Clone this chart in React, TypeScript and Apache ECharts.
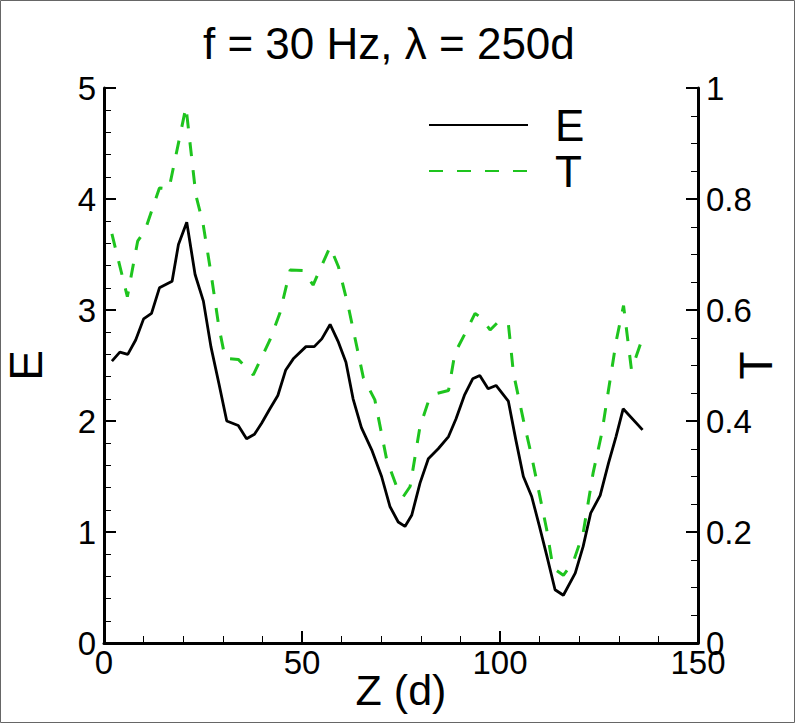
import React, { useEffect, useRef } from "react";
import * as echarts from "echarts";

const titleText = "f = 30 Hz, \u03bb = 250d";
const xTicks = { min: 0, max: 150, interval: 50 };
const eTicks = { min: 0, max: 5, interval: 1 };
const tTicks = { min: 0, max: 1, interval: 0.2 };

const zE = [2, 4, 6, 8, 10, 12, 14, 17.2, 18.8, 20.9, 23, 25.1, 27, 29, 31, 33.9, 36, 38, 39.8, 41.9, 43.9, 45.9, 47.8, 51, 53.1, 55, 57.1, 59.2, 61.1, 62.9, 65, 67.6, 70.1, 72.2, 74.3, 76, 77.7, 79.8, 81.9, 84.4, 87, 88.9, 91, 93.1, 94.9, 97, 99, 102.1, 104, 105.9, 108, 109.9, 111.8, 113.9, 116, 119, 121, 122.9, 125.3, 127.4, 129.3, 131.1, 136];
const eValues = [2.54, 2.62, 2.6, 2.73, 2.92, 2.97, 3.2, 3.26, 3.59, 3.79, 3.32, 3.08, 2.67, 2.34, 2.0, 1.96, 1.84, 1.88, 1.98, 2.11, 2.23, 2.46, 2.56, 2.67, 2.67, 2.74, 2.87, 2.71, 2.53, 2.2, 1.94, 1.74, 1.5, 1.23, 1.09, 1.05, 1.15, 1.44, 1.66, 1.75, 1.86, 2.02, 2.23, 2.38, 2.41, 2.29, 2.32, 2.18, 1.83, 1.5, 1.32, 1.06, 0.79, 0.48, 0.43, 0.63, 0.87, 1.17, 1.33, 1.62, 1.86, 2.11, 1.92];

const zT = [2, 5.9, 8.5, 10.4, 14, 16.4, 20.7, 23.2, 25, 27, 29, 30.6, 33.9, 37.7, 41.9, 44.4, 47, 50.3, 52.8, 57.1, 59.2, 61.7, 65.5, 68.4, 71.4, 73.9, 75.6, 77.3, 79.8, 81.9, 83.6, 87, 88.6, 91.2, 93.7, 95.4, 97.5, 99.6, 102.1, 103.4, 105.9, 108, 111.8, 113.4, 116, 118.5, 121, 123.5, 125.7, 127.8, 129.4, 131.2, 133.2, 136];
const tValues = [0.737, 0.624, 0.724, 0.744, 0.82, 0.818, 0.966, 0.807, 0.756, 0.667, 0.57, 0.513, 0.511, 0.483, 0.546, 0.594, 0.672, 0.671, 0.645, 0.714, 0.678, 0.606, 0.478, 0.438, 0.33, 0.282, 0.264, 0.282, 0.39, 0.435, 0.449, 0.455, 0.522, 0.558, 0.594, 0.585, 0.564, 0.579, 0.576, 0.486, 0.402, 0.336, 0.204, 0.135, 0.122, 0.146, 0.198, 0.306, 0.378, 0.474, 0.546, 0.608, 0.492, 0.55];

const FONT = "'Liberation Sans', Arial, Helvetica, sans-serif";
const GREEN = "#1ec41e";

export default function App() {
  const ref = useRef<HTMLDivElement>(null);
  useEffect(() => {
    document.body.style.margin = "0";
    if (!ref.current) return;
    const chart = echarts.init(ref.current, null, { renderer: "svg" });
    const axisCommon = {
      axisLine: { show: true, lineStyle: { color: "#000", width: 3 } },
      axisTick: { show: true, inside: true, length: 12, lineStyle: { color: "#000", width: 2 } },
      minorTick: { show: true, length: 7, lineStyle: { color: "#000", width: 1 } },
      splitLine: { show: false },
      minorSplitLine: { show: false },
      axisLabel: { color: "#000", fontSize: 33, fontFamily: FONT },
      nameTextStyle: { color: "#000", fontSize: 46, lineHeight: 40, fontFamily: FONT },
      nameMoveOverlap: false,
    };
    chart.setOption({
      animation: false,
      backgroundColor: "#fff",
      textStyle: { fontFamily: FONT },
      title: {
        text: titleText,
        left: 198,
        top: 16,
        textStyle: { color: "#000", fontSize: 44, fontWeight: "normal", fontFamily: FONT },
      },
      grid: { left: 104, right: 97, top: 88, bottom: 80, containLabel: false, outerBoundsMode: "none" },
      legend: {
        data: ["E", "T"],
        orient: "vertical",
        left: 423,
        top: 98,
        itemWidth: 99,
        itemHeight: 14,
        itemGap: 2,
        itemStyle: { opacity: 0 },
        textStyle: { color: "#000", fontSize: 44, lineHeight: 40, padding: [0, 0, 0, 22], fontFamily: FONT },
      },
      xAxis: {
        type: "value",
        ...xTicks,
        ...axisCommon,
        minorTick: { ...axisCommon.minorTick, splitNumber: 5 },
        axisLabel: { ...axisCommon.axisLabel, margin: 3 },
        name: "Z (d)",
        nameLocation: "middle",
        nameGap: 25,
        nameTextStyle: { color: "#000", fontSize: 43, fontFamily: FONT },
      },
      yAxis: [
        {
          type: "value",
          position: "left",
          ...eTicks,
          ...axisCommon,
          minorTick: { ...axisCommon.minorTick, splitNumber: 5 },
          axisLabel: { ...axisCommon.axisLabel, margin: 8 },
          name: "E",
          nameLocation: "middle",
          nameGap: 58,
          nameRotate: 90,
        },
        {
          type: "value",
          position: "right",
          ...tTicks,
          ...axisCommon,
          minorTick: { ...axisCommon.minorTick, splitNumber: 4 },
          axisLabel: { ...axisCommon.axisLabel, margin: 8 },
          name: "T",
          nameLocation: "middle",
          nameGap: 38,
          nameRotate: 90,
        },
      ],
      graphic: [
        {
          type: "rect",
          shape: { x: 0.5, y: 0.5, width: 794, height: 722 },
          style: { fill: "none", stroke: "#666", lineWidth: 1 },
          silent: true,
        },
      ],
      series: [
        {
          name: "E",
          type: "line",
          yAxisIndex: 0,
          symbol: "none",
          data: zE.map((z, i) => [z, eValues[i]]),
          lineStyle: { color: "#000", width: 2.8 },
          itemStyle: { color: "#000" },
        },
        {
          name: "T",
          type: "line",
          yAxisIndex: 1,
          symbol: "none",
          data: zT.map((z, i) => [z, tValues[i]]),
          lineStyle: { color: GREEN, width: 3, type: [14, 14] },
          itemStyle: { color: GREEN },
        },
      ],
    });
    return () => chart.dispose();
  }, []);
  return <div ref={ref} style={{ width: 795, height: 723 }} />;
}
